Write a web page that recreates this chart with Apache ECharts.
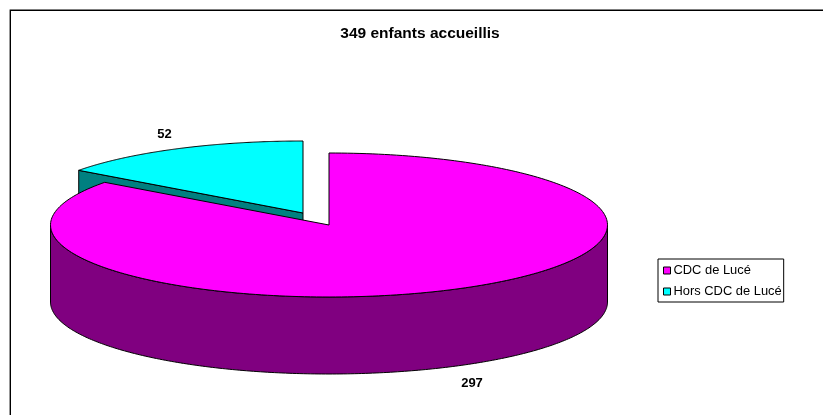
<!DOCTYPE html>
<html><head><meta charset="utf-8">
<style>html,body{margin:0;padding:0;background:#fff}#c{width:823px;height:415px}</style>
<script src="https://cdn.jsdelivr.net/npm/echarts@6/dist/echarts.min.js"></script>
</head><body><div id="c"></div>
<script>
const categories = ['CDC de Lucé', 'Hors CDC de Lucé'];
const values = [297, 52];
const topColors = ['#FF00FF', '#00FFFF'];
const wallColors = ['#800080', '#008080'];
const titleText = '349 enfants accueillis';

const FONT = '"Liberation Sans", Arial, sans-serif';
const RX = 278.5, RY = 72, DEPTH = 77;
const centers = [[329, 225], [303, 213]];
const labelSpots = [[472, 383], [164.5, 134]];
const total = values.reduce((a, b) => a + b, 0);
const starts = values.map((_, i) => values.slice(0, i).reduce((a, b) => a + b, 0) / total * Math.PI * 2);
const ends = values.map((v, i) => starts[i] + v / total * Math.PI * 2);

function pt(c, a, dy) {
  return [c[0] + RX * Math.sin(a), c[1] - RY * Math.cos(a) + (dy || 0)];
}
function arc(c, a0, a1, dy) {
  const pts = [], n = 240;
  for (let i = 0; i <= n; i++) pts.push(pt(c, a0 + (a1 - a0) * i / n, dy));
  return pts;
}
const line = { stroke: '#000', lineWidth: 1 };
function poly(points, fill, z2) {
  return { type: 'polygon', z2, shape: { points }, style: Object.assign({ fill, lineJoin: 'round' }, line) };
}
function renderSlice(params, api) {
  const i = api.value(0), c = centers[i], a0 = starts[i], a1 = ends[i];
  const children = [];
  // outer wall: only the part on the front half (angles 90deg to 270deg)
  const f0 = Math.max(a0, Math.PI / 2), f1 = Math.min(a1, Math.PI * 1.5);
  if (f1 > f0) {
    children.push(poly(arc(c, f0, f1, 0).concat(arc(c, f1, f0, DEPTH)), wallColors[i], 1));
  }
  // cut wall facing the viewer
  if (a0 > Math.PI) {
    const tip = pt(c, a0);
    children.push(poly([c, tip, [tip[0], tip[1] + DEPTH], [c[0], c[1] + DEPTH]], wallColors[i], 1));
  }
  children.push(poly([c].concat(arc(c, a0, a1, 0)), topColors[i], 2));
  children.push({ type: 'text', z2: 3, style: {
    x: labelSpots[i][0], y: labelSpots[i][1], text: String(api.value(1)),
    font: 'bold 13px ' + FONT, fill: '#000', align: 'center', verticalAlign: 'middle' } });
  return { type: 'group', children };
}
// Hors CDC is painted first: the pink slice overlaps its cut wall
const series = categories.map((name, i) => ({
  type: 'custom', name, coordinateSystem: 'none', z: i === 1 ? 1 : 2, silent: true,
  animation: false, clip: false,
  itemStyle: { color: topColors[i] },
  renderItem: renderSlice,
  encode: { value: 1 },
  data: [[i, values[i]]]
}));
const chart = echarts.init(document.getElementById('c'), null, { renderer: 'canvas' });
chart.setOption({
  animation: false,
  backgroundColor: '#fff',
  title: { text: titleText, left: 420, top: 25, textAlign: 'center', padding: 0,
    textStyle: { fontFamily: FONT, fontSize: 15.5, fontWeight: 'bold', color: '#000', lineHeight: 17 } },
  legend: {
    orient: 'vertical', left: 658, top: 259,
    padding: [4, 2, 3, 5], itemGap: 6, itemWidth: 7, itemHeight: 7, icon: 'rect',
    backgroundColor: '#fff', borderColor: '#000', borderWidth: 1, borderRadius: 0,
    selectedMode: false,
    textStyle: { fontFamily: FONT, fontSize: 12.9, color: '#000', lineHeight: 15, padding: [0, 0, 0, -2] },
    data: categories.map((name, i) => ({ name, icon: 'rect',
      itemStyle: { color: topColors[i], borderColor: '#000', borderWidth: 1 } }))
  },
  graphic: [{ type: 'polyline', silent: true,
    shape: { points: [[10.3, 415], [10.3, 10.3], [823, 10.3]] },
    style: { stroke: '#000', lineWidth: 1.4, fill: null } }],
  series
});
</script></body></html>
